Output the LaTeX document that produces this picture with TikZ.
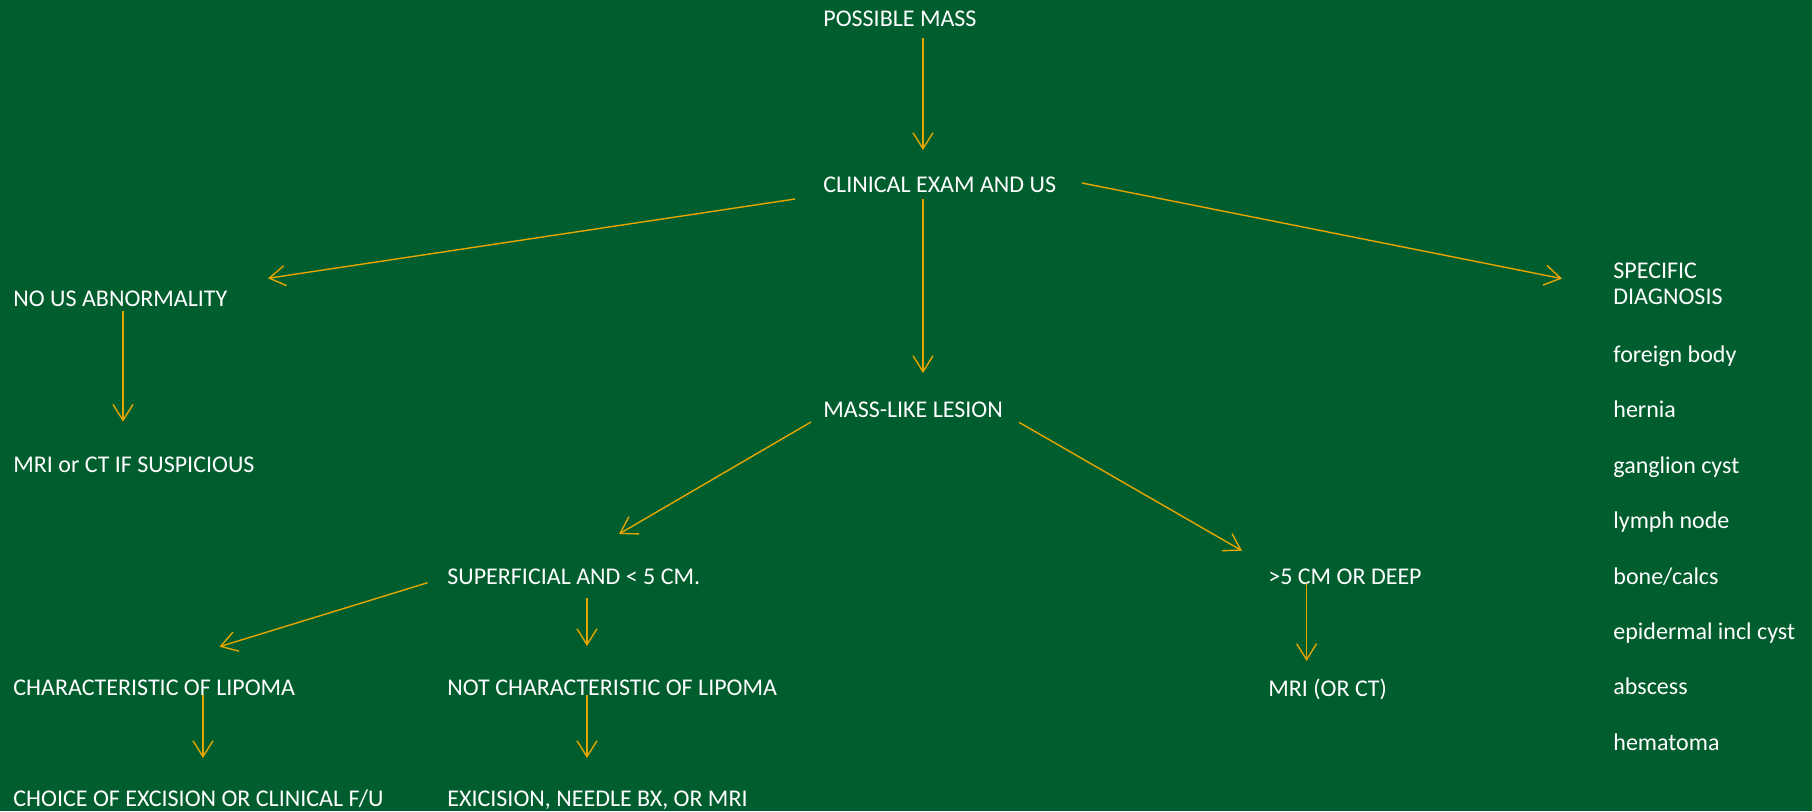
\documentclass[tikz,border=0pt]{standalone}
\usepackage{fontspec}
\setmainfont{Carlito}
\usetikzlibrary{arrows.meta}

\definecolor{board}{RGB}{0,94,46}
\definecolor{gold}{RGB}{230,165,0}

\begin{document}
\begin{tikzpicture}[> = {Straight Barb[length = 8pt, width = 10pt]}, x = 0.5pt, y = -0.5pt,
	lbl/.style = {anchor = west, inner sep = 0pt, text = white, font = \fontsize{12}{13}\selectfont},
	txt/.style = {lbl, text height = 9pt, text depth = 2pt},
	link/.style = {gold, line width = 0.7pt, ->}]

	% Definitions

	\def\W{1812}	% Width of the slide
	\def\H{811}		% Height of the slide
	\def\dy{55.4}	% Spacing of the diagnosis list

	% Background

	\useasboundingbox (0, 0) rectangle (\W, \H);
	\fill [board] (0, 0) rectangle (\W, \H);

	% Main column

	\node [txt] (mass) at (823, 19) {POSSIBLE MASS};
	\node [txt] (exam) at (823, 185) {CLINICAL EXAM AND US};
	\node [txt] (lesion) at (823, 410.5) {MASS-LIKE LESION};

	% Left branch

	\node [txt] (nous) at (13, 299.5) {NO US ABNORMALITY};
	\node [txt] (susp) at (13, 465) {MRI or CT IF SUSPICIOUS};

	% Superficial branch

	\node [txt] (small) at (447, 577) {SUPERFICIAL AND < 5 CM.};
	\node [txt] (lipoma) at (13, 688) {CHARACTERISTIC OF LIPOMA};
	\node [txt] (nonlip) at (447, 688) {NOT CHARACTERISTIC OF LIPOMA};
	\node [txt] (choice) at (13, 799) {CHOICE OF EXCISION OR CLINICAL F/U};
	\node [txt] (biopsy) at (447, 799) {EXICISION, NEEDLE BX, OR MRI};

	% Deep branch

	\node [txt] (big) at (1268, 577.5) {>5 CM OR DEEP};
	\node [txt] (mri) at (1268, 689) {MRI (OR CT)};

	% Specific diagnosis list

	\node [lbl, anchor = north west, align = left] (specific) at (1613, 263) {SPECIFIC\\DIAGNOSIS};

	\foreach \t [count = \i] in {foreign body, hernia, ganglion cyst, lymph node, bone/calcs, epidermal incl cyst, abscess, hematoma}
		\node [txt] (dx\i) at (1613, {300 + \dy * \i}) {\t};

	% Arrows

	\draw [link] ([shift = {(100, 19)}]mass.west) -- ([shift = {(100, -35)}]exam.west);
	\draw [link] ([shift = {(-28, 14)}]exam.west) -- ([shift = {(255, -21.2)}]nous.west);
	\draw [link] ([shift = {(259, -2)}]exam.west) -- ([shift = {(-51, 15.6)}]specific.north west);
	\draw [link] ([shift = {(100, 14)}]exam.west) -- ([shift = {(100, -37.5)}]lesion.west);

	\draw [link] ([shift = {(110, 11.2)}]nous.west) -- ([shift = {(110, -43.3)}]susp.west);

	\draw [link] ([shift = {(-12, 11.5)}]lesion.west) -- ([shift = {(172, -43)}]small.west);
	\draw [link] ([shift = {(196, 11.8)}]lesion.west) -- ([shift = {(-26, -26.8)}]big.west);

	\draw [link] ([shift = {(-19.4, 5.7)}]small.west) -- ([shift = {(206.4, -41.3)}]lipoma.west);
	\draw [link] ([shift = {(140, 21)}]small.west) -- ([shift = {(140, -42)}]nonlip.west);
	\draw [link] ([shift = {(190, 7)}]lipoma.west) -- ([shift = {(190, -41)}]choice.west);
	\draw [link] ([shift = {(140, 7)}]nonlip.west) -- ([shift = {(140, -41)}]biopsy.west);

	\draw [link] ([shift = {(38.6, 5.5)}]big.west) -- ([shift = {(38.6, -28)}]mri.west);

\end{tikzpicture}
\end{document}
